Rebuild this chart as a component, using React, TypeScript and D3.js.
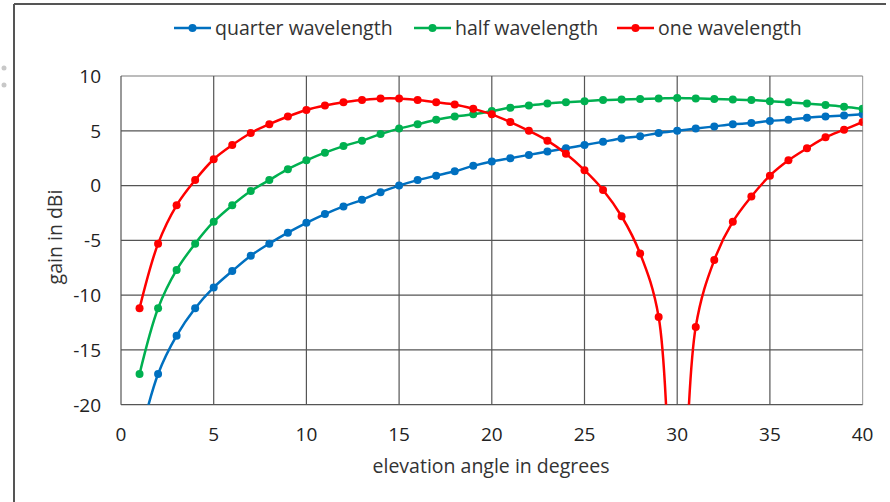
import React from 'react';
import * as d3 from 'd3';

// elevation angles (degrees)
const angles = d3.range(1, 41);

// gain in dBi
const quarterWave = [-23.2, -17.2, -13.7, -11.2, -9.3, -7.8, -6.4, -5.3, -4.3, -3.4,
  -2.6, -1.9, -1.3, -0.6, 0.0, 0.5, 0.9, 1.3, 1.8, 2.2,
  2.5, 2.8, 3.1, 3.4, 3.7, 4.0, 4.3, 4.5, 4.8, 5.0,
  5.2, 5.4, 5.6, 5.7, 5.9, 6.0, 6.2, 6.3, 6.4, 6.5];
const halfWave = [-17.2, -11.2, -7.7, -5.3, -3.3, -1.8, -0.5, 0.5, 1.5, 2.3,
  3.0, 3.6, 4.1, 4.7, 5.2, 5.6, 6.0, 6.3, 6.5, 6.8,
  7.1, 7.3, 7.5, 7.6, 7.7, 7.8, 7.85, 7.9, 7.95, 8.0,
  7.95, 7.9, 7.85, 7.8, 7.7, 7.6, 7.5, 7.35, 7.2, 7.0];
const oneWave = [-11.2, -5.3, -1.8, 0.5, 2.4, 3.7, 4.8, 5.6, 6.3, 6.9,
  7.3, 7.6, 7.8, 7.95, 7.95, 7.8, 7.6, 7.4, 7.0, 6.5,
  5.8, 5.0, 4.1, 2.9, 1.4, -0.4, -2.8, -6.2, -12.0, -40,
  -12.9, -6.8, -3.3, -1.0, 0.9, 2.3, 3.4, 4.4, 5.1, 5.8];

const seriesNames = ['quarter wavelength', 'half wavelength', 'one wavelength'];
const seriesColors = ['#0070c0', '#00b050', '#ff0000'];
const seriesValues = [quarterWave, halfWave, oneWave];

const xTicks = [0, 5, 10, 15, 20, 25, 30, 35, 40];
const yTicks = [-20, -15, -10, -5, 0, 5, 10];

const W = 890, H = 502;
const FONT = "'Open Sans', sans-serif";

export default function App() {
  const x = d3.scaleLinear().domain([0, 40]).range([121, 862.6]);
  const y = d3.scaleLinear().domain([-20, 10]).range([404.7, 76]);

  const line = d3.line<[number, number]>()
    .x(d => x(d[0]))
    .y(d => y(d[1]))
    .curve(d3.curveCatmullRom.alpha(0.5));

  const legendX = [174, 414, 617];

  return (
    <svg width={W} height={H} style={{ position: 'absolute', left: 0, top: 0, background: '#fff' }}
      fontFamily={FONT}>
      <defs>
        <clipPath id="plot">
          <rect x={x(0)} y={y(10)} width={x(40) - x(0)} height={y(-20) - y(10)} />
        </clipPath>
      </defs>

      {/* screenshot frame */}
      <line x1={14} x2={14} y1={4} y2={H} stroke="#555" strokeWidth={2} />
      <line x1={14} x2={886} y1={4} y2={4} stroke="#555" strokeWidth={2} />
      <circle cx={4} cy={68} r={2.5} fill="#c8c8c8" />
      <circle cx={4} cy={85} r={2.5} fill="#c8c8c8" />

      {/* grid */}
      <line x1={x(40)} x2={x(40)} y1={y(10)} y2={y(-20)} stroke="#a6a6a6" strokeWidth={1.2} />
      {yTicks.map(t => (
        <line key={'h' + t} x1={x(0)} x2={x(40)} y1={y(t)} y2={y(t)}
          stroke={t === 10 ? '#7a7a7a' : '#555'} strokeWidth={1.2} />
      ))}
      {xTicks.filter(t => t < 40).map(t => (
        <line key={'v' + t} x1={x(t)} x2={x(t)} y1={y(10)} y2={y(-20)} stroke="#555" strokeWidth={1.2} />
      ))}

      {/* tick labels */}
      {yTicks.map(t => (
        <text key={'yl' + t} x={101} y={y(t)} dy="0.36em" textAnchor="end" fontSize={19} fill="#222">{t}</text>
      ))}
      {xTicks.map(t => (
        <text key={'xl' + t} x={x(t)} y={441} textAnchor="middle" fontSize={19} fill="#222">{t}</text>
      ))}

      {/* axis titles */}
      <text x={491} y={473} textAnchor="middle" fontSize={19.5} fill="#333">elevation angle in degrees</text>
      <text transform={`translate(62,237) rotate(-90)`} textAnchor="middle" fontSize={19.5} fill="#333">gain in dBi</text>

      {/* series */}
      <g clipPath="url(#plot)">
        {seriesValues.map((vals, i) => {
          const pts = angles.map((a, j) => [a, vals[j]] as [number, number]);
          return (
            <g key={seriesNames[i]}>
              <path d={line(pts) || ''} fill="none" stroke={seriesColors[i]} strokeWidth={2.5} />
              {pts.filter(p => p[1] >= -20).map(p => (
                <circle key={p[0]} cx={x(p[0])} cy={y(p[1])} r={4} fill={seriesColors[i]} />
              ))}
            </g>
          );
        })}
      </g>

      {/* legend */}
      {seriesNames.map((name, i) => (
        <g key={'lg' + name} transform={`translate(${legendX[i]},28)`}>
          <line x1={0} x2={37} y1={0} y2={0} stroke={seriesColors[i]} strokeWidth={2.5} />
          <circle cx={18.5} cy={0} r={4} fill={seriesColors[i]} />
          <text x={41} y={0} dy="0.35em" fontSize={19.5} fill="#333">{name}</text>
        </g>
      ))}
    </svg>
  );
}
